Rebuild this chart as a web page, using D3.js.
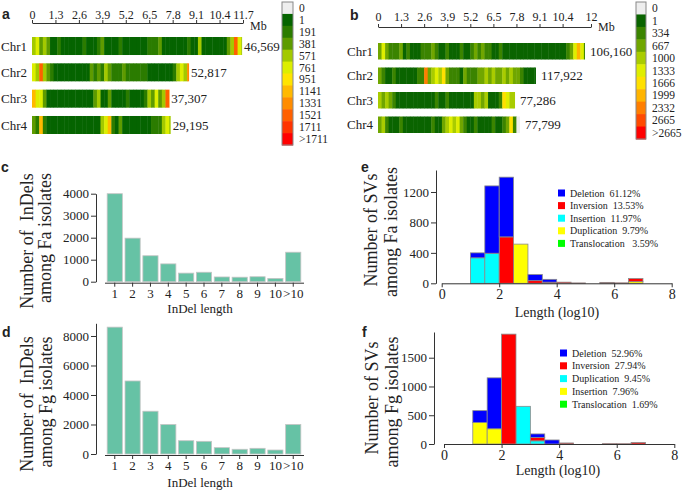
<!DOCTYPE html>
<html><head><meta charset="utf-8">
<script src="https://cdn.jsdelivr.net/npm/d3@7"></script>
<style>
body{margin:0;background:#fff}
svg text{font-family:"Liberation Serif","Times New Roman",serif !important;fill:#222}
svg text.pl{font-family:"Liberation Sans",Arial,sans-serif !important;font-weight:bold;font-size:14px}
.axis path,.axis line{stroke:#333}
</style></head><body>
<svg id="c" width="685" height="490"></svg>
<script>
// ---------------- DATA ----------------
const chrNames = ["Chr1","Chr2","Chr3","Chr4"];
const binMb = 0.2;
// Panel a (Fa)
const lensA = [11.65, 8.71, 7.61, 7.69];
const countsA = ["46,569","52,817","37,307","29,195"];
const ticksA = [0,1.3,2.6,3.9,5.2,6.5,7.8,9.1,10.4,11.7];
const tickLabelsA = ["0","1.3","2.6","3.9","5.2","6.5","7.8","9.1","10.4","11.7"];
const legendLabelsA = ["0","1","191","381","571","761","951","1141","1331","1521","1711",">1711"];
const thresholdsA = [1,191,381,571,761,951,1141,1331,1521,1711,1901];
const chr1A = [640,800,560,720,420,150,120,200,90,110,180,130,100,160,230,120,100,140,260,500,120,150,100,90,200,130,110,170,100,120,150,100,240,350,280,450,150,120,100,180,130,110,100,200,160,110,600,140,100,120,90,160,130,110,450,700,1600,850,650];
const chr2A = [800,650,1600,700,400,300,150,120,100,180,110,130,100,150,120,110,450,250,550,380,620,480,320,350,280,400,300,260,350,300,250,200,150,120,100,140,110,130,160,200,620,800,700,1400];
const chr3A = [1200,850,780,500,150,110,100,130,120,100,150,110,130,100,120,110,140,550,600,130,110,500,150,110,100,120,250,110,100,130,150,350,650,500,800,450,700,1600,900];
const chr4A = [450,300,1300,200,120,100,110,140,100,120,110,100,150,120,100,110,130,100,120,700,850,1250,350,150,450,120,100,110,130,100,120,110,100,250,320,280,650,900,750];
// Panel b (Fg)
const lensB = [11.66, 8.9, 7.72, 8.0];
const countsB = ["106,160","117,922","77,286","77,799"];
const ticksB = [0,1.3,2.6,3.9,5.2,6.5,7.8,9.1,10.4,12];
const tickLabelsB = ["0","1.3","2.6","3.9","5.2","6.5","7.8","9.1","10.4","12"];
const legendLabelsB = ["0","1","334","667","1000","1333","1666","1999","2332","2665",">2665"];
const thresholdsB = [1,334,667,1000,1333,1666,1999,2332,2665,2998];
const chr1B = [900,1500,800,600,400,350,700,300,450,250,300,200,400,650,500,900,350,300,250,400,200,300,250,350,200,300,550,750,500,900,650,400,300,200,350,250,200,300,250,150,200,180,250,150,200,300,180,250,200,150,250,200,300,350,900,1400,2300,1500,600];
const chr2B = [700,500,300,250,350,200,250,300,200,250,300,400,350,2500,900,1100,1600,1200,1700,700,400,350,500,300,800,400,600,350,900,700,1000,800,1100,700,900,1200,800,1000,700,900,600,250,200,300,250];
const chr3B = [1100,900,1300,800,350,200,150,250,180,200,150,250,200,150,300,200,350,250,200,400,300,200,250,200,150,200,250,1000,1200,900,1100,300,200,250,450,1700,1400,1100,1000];
const chr4B = [800,1000,400,250,300,200,350,250,200,300,250,200,300,250,200,350,300,250,700,1100,1600,1000,1500,700,400,300,250,350,200,300,250,200,350,300,250,450,900,1800,600,0];
// Panels c, d
const indelLengths = ["1","2","3","4","5","6","7","8","9","10",">10"];
const indelFa = [4000,1980,1180,810,390,430,215,205,225,150,1340];
const indelFg = [8600,4950,2900,2000,900,860,430,320,385,270,2000];
const indelTicksFa = [0,1000,2000,3000,4000];
const indelTicksFg = [0,2000,4000,6000,8000];
// Panels e, f (bins of 0.5 log10 units, starting values)
const svBins = [1,1.5,2,2.5,3,3.5,4,4.5,5,5.5,6,6.5];
const svTypes = ["Insertion","Duplication","Translocation","Inversion","Deletion"];
const faInsertion   = [335,395,0,0,0,0,0,0,0,0,0,0];
const faDuplication = [0,0,0,515,0,0,0,0,0,0,0,22];
const faTranslocation=[0,0,0,0,0,0,0,0,0,0,0,0];
const faInversion   = [0,0,610,0,35,15,15,5,0,12,6,40];
const faDeletion    = [65,885,785,0,80,37,0,0,0,0,0,0];
const fgInsertion   = [375,265,0,0,0,0,0,0,0,0,0,0];
const fgDuplication = [0,0,0,655,55,0,0,0,0,0,0,0];
const fgTranslocation=[0,0,0,0,0,0,0,0,0,0,0,0];
const fgInversion   = [0,0,1910,0,60,0,18,0,0,6,5,25];
const fgDeletion    = [205,885,0,0,60,70,0,0,0,0,0,0];
const svTicksFa = [0,400,800,1200];
const svTicksFg = [0,500,1000,1500];
const svXTicks = [0,2,4,6,8];
const legendE = ["Deletion  61.12%","Inversion  13.53%","Insertion  11.97%","Duplication  9.79%","Translocation   3.59%"];
const legendEKeys = ["Deletion","Inversion","Insertion","Duplication","Translocation"];
const legendF = ["Deletion  52.96%","Inversion  27.94%","Duplication  9.45%","Insertion  7.96%","Translocation  1.69%"];
const legendFKeys = ["Deletion","Inversion","Duplication","Insertion","Translocation"];

// ---------------- STYLE ----------------
const colorsA = ["#eeeeee","#056400","#2b7c00","#5e9b00","#a3c900","#dcee00","#ffe400","#ffb900","#ff8c00","#ff6000","#ff3400","#ff0000"];
const colorsB = ["#eeeeee","#0a6400","#3b8400","#70a600","#a9cc00","#dfee00","#ffe000","#ffb400","#ff7e00","#ff4a00","#ff0000"];
const svColor = {Deletion:"#0000ff",Inversion:"#ff0000",Insertion:"#00ffff",Duplication:"#ffff00",Translocation:"#00ff00"};
const faType = {Insertion:faInsertion,Duplication:faDuplication,Translocation:faTranslocation,Inversion:faInversion,Deletion:faDeletion};
const fgType = {Insertion:fgInsertion,Duplication:fgDuplication,Translocation:fgTranslocation,Inversion:fgInversion,Deletion:fgDeletion};
const fgSwap = {Insertion:"#ffff00",Duplication:"#00ffff"}; // in f, insertion is yellow and duplication cyan

const svg = d3.select("#c");
const fmt = d3.format("d");

function plabel(t,x,y){svg.append("text").attr("class","pl").attr("x",x).attr("y",y).text(t);}

// ---------------- HEATMAPS ----------------
function heat(p){
  const g = svg.append("g");
  const x = d3.scaleLinear().domain([0,p.maxMb]).range(p.xr);
  const y = d3.scaleBand().domain(chrNames).range(p.yr).paddingInner(p.pad).paddingOuter(0);
  const color = d3.scaleThreshold().domain(p.thr).range(p.colors);
  chrNames.forEach((c,i)=>{
    const vals = p.data[i], len = p.lens[i];
    g.append("g").selectAll("rect").data(vals).join("rect")
      .attr("x",(d,j)=>x(j*binMb))
      .attr("width",(d,j)=>Math.max(0,x(Math.min((j+1)*binMb,len))-x(j*binMb)+((j+1)*binMb<len?0.4:0)))
      .attr("y",y(c)).attr("height",y.bandwidth())
      .attr("fill",d=>color(d));
    g.append("text").attr("x",p.chrX).attr("y",y(c)+y.bandwidth()/2).attr("dy","0.35em")
      .style("font-size","13px").text(c);
    g.append("text").attr("x",x(len)+p.cntOff).attr("y",y(c)+y.bandwidth()/2).attr("dy","0.35em")
      .style("font-size","13px").text(p.counts[i]);
  });
  const ax = g.append("g").attr("class","axis").attr("transform",`translate(0,${p.axisY})`)
    .call(d3.axisTop(x).tickValues(p.ticks).tickFormat((d,i)=>p.tickLabels[i]).tickSize(3).tickSizeOuter(0).tickPadding(p.tp));
  ax.selectAll("text").style("font-size","12px").attr("fill","#222");
  g.append("text").attr("x",p.mbX).attr("y",p.axisY+p.mbDy).style("font-size","12px").text("Mb");
  // legend
  const n = p.legendLabels.length;
  const ly = d3.scaleBand().domain(d3.range(n)).range(p.legY);
  const lg = g.append("g");
  lg.selectAll("rect").data(p.legendLabels).join("rect")
    .attr("x",p.legX).attr("width",p.legW).attr("y",(d,i)=>ly(i)).attr("height",ly.bandwidth()+0.5)
    .attr("fill",(d,i)=>p.colors[i]);
  lg.append("rect").attr("x",p.legX).attr("y",p.legY[0]).attr("width",p.legW).attr("height",p.legY[1]-p.legY[0])
    .attr("fill","none").attr("stroke","#888").attr("stroke-width",1);
  lg.selectAll("text").data(p.legendLabels).join("text")
    .attr("x",p.legX+p.legW+6).attr("y",(d,i)=>ly(i)+ly.bandwidth()/2).attr("dy","0.35em")
    .style("font-size","11.5px").text(d=>d);
}

heat({xr:[32,243],maxMb:11.7,yr:[37,134],pad:0.316,thr:thresholdsA,colors:colorsA,
  data:[chr1A,chr2A,chr3A,chr4A],lens:lensA,counts:countsA,chrX:1,cntOff:2,
  axisY:23,ticks:ticksA,tickLabels:tickLabelsA,tp:1,mbX:250,mbDy:7,
  legendLabels:legendLabelsA,legX:282,legW:11,legY:[2,145]});
heat({xr:[378,591],maxMb:12,yr:[43,133],pad:0.3265,thr:thresholdsB,colors:colorsB,
  data:[chr1B,chr2B,chr3B,chr4B],lens:lensB,counts:countsB,chrX:347,cntOff:5,
  axisY:27,ticks:ticksB,tickLabels:tickLabelsB,tp:3,mbX:598,mbDy:4,
  legendLabels:legendLabelsB,legX:636,legW:10,legY:[2,139]});
plabel("a",2,19); plabel("b",350,20);

// ---------------- INDEL BARS ----------------
function indel(p){
  const g = svg.append("g");
  const x = d3.scaleBand().domain(indelLengths).range([104.5,303.5]).padding(0.15);
  const y = d3.scaleLinear().domain([0,p.ymax]).range([p.y0,p.y1]);
  g.selectAll("rect").data(p.values).join("rect")
    .attr("x",(d,i)=>x(indelLengths[i])).attr("width",x.bandwidth())
    .attr("y",d=>y(d)).attr("height",d=>p.y0-y(d))
    .attr("fill","#66c2a5").attr("stroke","#c4c4c4").attr("stroke-width",0.8);
  const ya = g.append("g").attr("class","axis").attr("transform","translate(96,0)")
    .call(d3.axisLeft(y).tickValues(p.ticks).tickFormat(fmt).tickSize(5).tickSizeOuter(0).tickPadding(2));
  const xa = g.append("g").attr("class","axis").attr("transform",`translate(0,${p.y0+1})`)
    .call(d3.axisBottom(x).tickSize(4).tickSizeOuter(0).tickPadding(2));
  [ya,xa].forEach(a=>a.selectAll("text").style("font-size","13px").attr("fill","#222"));
  g.append("text").attr("x",200).attr("y",p.xlabY).attr("text-anchor","middle").style("font-size","13px").text("InDel length");
  p.ytitle.forEach((t,i)=>{
    g.append("text").attr("transform",`translate(${p.ytX[i]},${p.ytY[i]}) rotate(-90)`)
      .attr("text-anchor","middle").attr("dy","0.35em").style("font-size","18px").style("white-space","pre").text(t);
  });
}
indel({values:indelFa,ticks:indelTicksFa,ymax:4000,y0:281.7,y1:193.7,xlabY:313,
  ytitle:["Number of  InDels","among Fa isolates"],ytX:[27,45],ytY:[241,238]});
indel({values:indelFg,ticks:indelTicksFg,ymax:8860,y0:454,y1:323.3,xlabY:487,
  ytitle:["Number of  InDels","among Fg isolates"],ytX:[27,46],ytY:[404,402]});
plabel("c",1,172); plabel("d",2,337);

// ---------------- SV HISTOGRAMS ----------------
function sv(p){
  const g = svg.append("g");
  const x = d3.scaleLinear().domain([0,8]).range([p.x0,p.x1]);
  const y = d3.scaleLinear().domain([0,p.ymax]).range([p.y0,p.y1]);
  const rows = svBins.map((b,i)=>{const r={bin:b}; svTypes.forEach(k=>r[k]=p.types[k][i]); return r;});
  const series = d3.stack().keys(svTypes)(rows);
  series.forEach(s=>{
    g.append("g").selectAll("rect").data(s.filter(d=>d[1]-d[0]>0)).join("rect")
      .attr("x",d=>x(d.data.bin)).attr("width",d=>x(d.data.bin+0.5)-x(d.data.bin))
      .attr("y",d=>y(d[1])).attr("height",d=>y(d[0])-y(d[1]))
      .attr("fill",p.colors[s.key]).attr("stroke","#8a8a8a").attr("stroke-width",0.8);
  });
  const ya = g.append("g").attr("class","axis").attr("transform",`translate(${p.yAxisX},0)`)
    .call(d3.axisLeft(y).tickValues(p.ticks).tickFormat(fmt).tickSize(5).tickSizeOuter(0).tickPadding(2));
  const xa = g.append("g").attr("class","axis").attr("transform",`translate(0,${p.y0})`)
    .call(d3.axisBottom(x).tickValues(svXTicks).tickFormat(fmt).tickSize(4).tickSizeOuter(0).tickPadding(2));
  ya.selectAll("text").style("font-size","13px").attr("fill","#222");
  xa.selectAll("text").style("font-size","14px").attr("fill","#222");
  g.append("text").attr("x",p.xlabX).attr("y",p.xlabY).attr("text-anchor","middle").style("font-size","14px").text("Length (log10)");
  p.ytitle.forEach((t,i)=>{
    g.append("text").attr("transform",`translate(${p.ytX[i]},${p.ytY[i]}) rotate(-90)`)
      .attr("text-anchor","middle").attr("dy","0.35em").style("font-size","18px").text(t);
  });
  const lg = g.append("g");
  p.legend.forEach((t,i)=>{
    const yy = p.legY + i*p.legStep;
    lg.append("rect").attr("x",p.legX).attr("y",yy-3.5).attr("width",7).attr("height",7).attr("fill",p.colors[p.legendKeys[i]]);
    lg.append("text").attr("x",p.legX+12).attr("y",yy).attr("dy","0.35em").style("font-size","10px").style("white-space","pre").text(t);
  });
}
const colE = Object.assign({},svColor);
const colF = Object.assign({},svColor,fgSwap);
sv({types:faType,colors:colE,x0:441.7,x1:671.7,y0:283.3,y1:170,ymax:1489,yAxisX:436,ticks:svTicksFa,
  xlabX:557,xlabY:317,ytitle:["Number of SVs","among Fa isolates"],ytX:[371,391],ytY:[230,232],
  legend:legendE,legendKeys:legendEKeys,legX:558,legY:193,legStep:12.6});
sv({types:fgType,colors:colF,x0:444,x1:674.3,y0:444,y1:332,ymax:1947,yAxisX:434,ticks:svTicksFg,
  xlabX:558,xlabY:475,ytitle:["Number of SVs","among Fg isolates"],ytX:[372,392],ytY:[398,402],
  legend:legendF,legendKeys:legendFKeys,legX:560,legY:353,legStep:12.8});
plabel("e",361,172); plabel("f",362,337);
</script>
</body></html>
